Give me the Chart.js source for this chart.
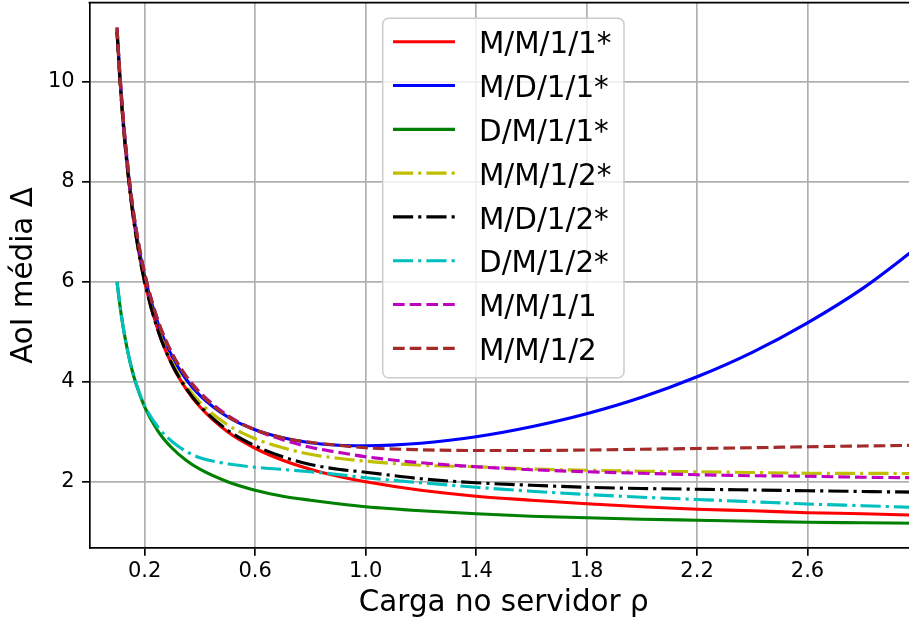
<!DOCTYPE html>
<html><head><meta charset="utf-8">
<script src="https://cdn.jsdelivr.net/npm/chart.js@4.4.1/dist/chart.umd.min.js"></script>
<style>
html,body{margin:0;padding:0;background:#fff;overflow:hidden;}
#wrap{width:909px;height:623px;overflow:hidden;position:relative;}
canvas{display:block;}
</style></head><body>
<div id="wrap"><canvas id="c" width="918" height="623" style="width:918px;height:623px"></canvas></div>
<script>
// Server load rho (x values)
const rho = [0.1, 0.11, 0.12, 0.13, 0.15, 0.17, 0.2, 0.25, 0.3, 0.35, 0.4, 0.5, 0.6, 0.7, 0.8, 0.9, 1.0, 1.2, 1.4, 1.6, 1.8, 2.0, 2.2, 2.4, 2.6, 2.8, 3.0];
// Average AoI per model
const mm11s = [11.0, 10.09, 9.33, 8.69, 7.67, 6.88, 6.0, 5.0, 4.33, 3.86, 3.5, 3.0, 2.67, 2.43, 2.25, 2.11, 2.0, 1.83, 1.71, 1.63, 1.56, 1.5, 1.45, 1.42, 1.38, 1.36, 1.33];
const md11s = [11.05, 10.15, 9.40, 8.76, 7.75, 6.97, 6.11, 5.14, 4.50, 4.05, 3.73, 3.30, 3.04, 2.88, 2.78, 2.73, 2.72, 2.77, 2.90, 3.10, 3.36, 3.69, 4.10, 4.59, 5.18, 5.87, 6.70];
const dm11s = [6.0, 5.55, 5.17, 4.85, 4.33, 3.94, 3.5, 3.0, 2.67, 2.43, 2.25, 2.0, 1.83, 1.71, 1.63, 1.56, 1.5, 1.42, 1.36, 1.31, 1.28, 1.25, 1.23, 1.21, 1.19, 1.18, 1.17];
const mm12s = [11.0, 10.09, 9.34, 8.70, 7.68, 6.89, 6.02, 5.03, 4.38, 3.93, 3.59, 3.14, 2.86, 2.68, 2.55, 2.47, 2.41, 2.33, 2.30, 2.255, 2.23, 2.21, 2.20, 2.185, 2.17, 2.167, 2.165];
const md12s = [11.0, 10.09, 9.33, 8.69, 7.67, 6.88, 6.0, 5.0, 4.34, 3.87, 3.52, 3.035, 2.72, 2.50, 2.345, 2.25, 2.19, 2.06, 1.98, 1.93, 1.89, 1.865, 1.85, 1.835, 1.82, 1.805, 1.79];
const dm12s = [6.0, 5.55, 5.17, 4.85, 4.34, 3.95, 3.52, 3.08, 2.80, 2.61, 2.48, 2.36, 2.29, 2.245, 2.20, 2.145, 2.08, 1.98, 1.89, 1.81, 1.745, 1.69, 1.645, 1.60, 1.555, 1.52, 1.485];
const mm11 = [11.09, 10.19, 9.44, 8.81, 7.80, 7.03, 6.17, 5.2, 4.56, 4.12, 3.79, 3.33, 3.04, 2.84, 2.69, 2.59, 2.5, 2.38, 2.30, 2.24, 2.20, 2.17, 2.14, 2.12, 2.11, 2.09, 2.08];
const mm12 = [11.09, 10.19, 9.44, 8.81, 7.80, 7.03, 6.17, 5.20, 4.56, 4.11, 3.77, 3.31, 3.04, 2.88, 2.79, 2.73, 2.68, 2.64, 2.625, 2.625, 2.635, 2.65, 2.665, 2.68, 2.70, 2.715, 2.73];

const seriesNames = ['M/M/1/1*', 'M/D/1/1*', 'D/M/1/1*', 'M/M/1/2*', 'M/D/1/2*', 'D/M/1/2*', 'M/M/1/1', 'M/M/1/2'];
const seriesValues = [mm11s, md11s, dm11s, mm12s, md12s, dm12s, mm11, mm12];
const xTicks = [0.2, 0.6, 1.0, 1.4, 1.8, 2.2, 2.6];
const yTicks = [2, 4, 6, 8, 10];

const S = 2.1; // px per pt
const LW = 1.5 * S;
const DASH = [3.7 * 1.5 * S, 1.6 * 1.5 * S];
const DASHDOT = [6.4 * 1.5 * S, 1.6 * 1.5 * S, 1.0 * 1.5 * S, 1.6 * 1.5 * S];
const styles = [
  {color: '#ff0000', dash: []},
  {color: '#0000ff', dash: []},
  {color: '#008000', dash: []},
  {color: '#bfbf00', dash: DASHDOT},
  {color: '#000000', dash: DASHDOT},
  {color: '#00bfbf', dash: DASHDOT},
  {color: '#bf00bf', dash: DASH},
  {color: '#a52a2a', dash: DASH}
];

Chart.defaults.font.family = "'DejaVu Sans'";
Chart.defaults.color = '#000';

const datasets = seriesNames.map((name, i) => ({
  label: name,
  data: rho.map((x, j) => ({x: x, y: seriesValues[i][j]})),
  borderColor: styles[i].color,
  backgroundColor: styles[i].color,
  borderWidth: LW,
  borderDash: styles[i].dash,
  pointRadius: 0,
  fill: false,
  cubicInterpolationMode: 'monotone',
  order: seriesNames.length - i
}));

const boxLegend = {
  id: 'boxLegend',
  afterDatasetsDraw(chart) {
    const ctx = chart.ctx;
    const a = chart.chartArea;
    ctx.save();
    ctx.setLineDash([]);
    ctx.strokeStyle = '#000';
    ctx.lineWidth = 0.8 * S;
    ctx.beginPath();
    ctx.moveTo(a.left - 0.84, a.top);
    ctx.lineTo(a.right, a.top);
    ctx.stroke();

    const bx = 382.7, by = 18.3, bw = 241.3, bh = 359.4;
    ctx.beginPath();
    ctx.roundRect(bx, by, bw, bh, 6);
    ctx.fillStyle = 'rgba(255,255,255,0.8)';
    ctx.fill();
    ctx.strokeStyle = '#cccccc';
    ctx.lineWidth = 1.5;
    ctx.stroke();

    chart.data.datasets.forEach((ds, i) => {
      const y = 41.7 + i * 43.8;
      ctx.beginPath();
      ctx.setLineDash(ds.borderDash || []);
      ctx.lineDashOffset = 0;
      ctx.strokeStyle = ds.borderColor;
      ctx.lineWidth = ds.borderWidth;
      ctx.lineCap = 'butt';
      ctx.moveTo(393, y);
      ctx.lineTo(455, y);
      ctx.stroke();
      ctx.setLineDash([]);
      ctx.fillStyle = '#000';
      ctx.font = (14 * S) + "px 'DejaVu Sans'";
      ctx.textBaseline = 'alphabetic';
      ctx.textAlign = 'left';
      ctx.fillText(ds.label, 479, y + 11.6);
    });
    ctx.restore();
  }
};

new Chart(document.getElementById('c'), {
  type: 'line',
  data: {datasets: datasets},
  options: {
    responsive: false,
    animation: false,
    devicePixelRatio: 1,
    layout: {padding: {top: 2.7, left: 0, right: 0, bottom: 0}},
    plugins: {legend: {display: false}, tooltip: {enabled: false}},
    scales: {
      x: {
        type: 'linear',
        min: 0,
        max: 3.0,
        afterBuildTicks: s => { s.ticks = xTicks.map(v => ({value: v})); },
        afterFit: s => { s.height = 74.7; s.paddingLeft = 0; s.paddingRight = 0; },
        grid: {color: '#b0b0b0', lineWidth: 0.8 * S, drawTicks: true, tickLength: 3.5 * S, tickColor: '#000', tickWidth: 0.8 * S},
        border: {display: true, color: '#000', width: 0.8 * S},
        ticks: {font: {size: 10 * S}, color: '#000', padding: 3.5, maxRotation: 0, autoSkip: false,
                callback: v => Number(v).toFixed(1)},
        title: {display: true, text: 'Carga no servidor ρ', font: {size: 14 * S}, color: '#000', padding: {top: 0, bottom: 2.3}}
      },
      y: {
        type: 'linear',
        min: 0.668,
        max: 11.586,
        afterBuildTicks: s => { s.ticks = yTicks.map(v => ({value: v})); },
        afterFit: s => { s.width = 89.4; s.paddingTop = 0; s.paddingBottom = 0; },
        grid: {color: '#b0b0b0', lineWidth: 0.8 * S, drawTicks: true, tickLength: 3.5 * S, tickColor: '#000', tickWidth: 0.8 * S},
        border: {display: true, color: '#000', width: 0.8 * S},
        ticks: {font: {size: 10 * S}, color: '#000', padding: 3.5 * S, autoSkip: false,
                callback: v => String(Math.round(v))},
        title: {display: true, text: 'AoI média Δ', font: {size: 14 * S}, color: '#000', padding: {top: 7.2, bottom: 0}}
      }
    }
  },
  plugins: [boxLegend]
});
</script>
</body></html>
